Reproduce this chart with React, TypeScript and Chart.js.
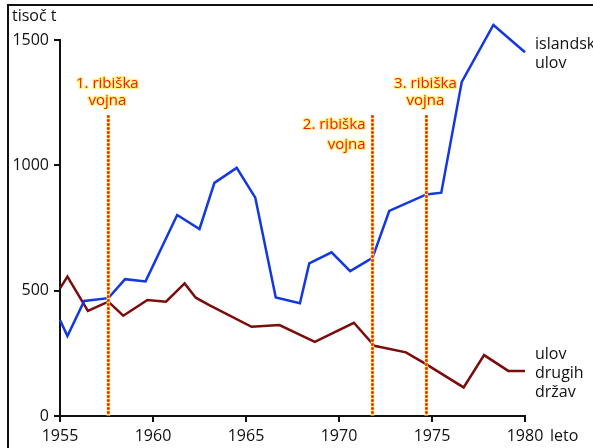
import React, { useEffect, useRef } from "react";
import { Chart, registerables } from "chart.js";

Chart.register(...registerables);

// Islandski ulov (thousand tonnes)
const yearsIceland = [1955.0, 1955.4, 1956.3, 1957.6, 1958.5, 1959.6, 1961.3, 1962.5, 1963.3, 1964.5, 1965.5, 1966.6, 1967.9, 1968.4, 1969.6, 1970.6, 1971.8, 1972.7, 1974.7, 1975.5, 1976.6, 1978.3, 1980.0];
const catchIceland = [383, 319, 459, 470, 546, 537, 802, 746, 930, 990, 871, 473, 450, 609, 653, 578, 631, 818, 884, 891, 1333, 1560, 1451];

// Ulov drugih držav
const yearsOthers = [1955.0, 1955.4, 1956.5, 1957.6, 1958.4, 1959.7, 1960.7, 1961.7, 1962.3, 1963.0, 1965.3, 1966.8, 1968.7, 1970.8, 1971.9, 1973.6, 1974.7, 1976.7, 1977.8, 1979.1, 1980.0];
const catchOthers = [509, 556, 419, 456, 400, 463, 456, 529, 472, 443, 356, 363, 296, 372, 280, 254, 206, 114, 243, 180, 180];

// Ribiške vojne (cod wars)
const warYears = [1957.6, 1971.8, 1974.7];
const warLabels = [["1. ribiška", "vojna"], ["2. ribiška", "vojna"], ["3. ribiška", "vojna"]];
const warTop = 1200;

const xTicks = [1955, 1960, 1965, 1970, 1975, 1980];
const yTicks = [0, 500, 1000, 1500];

const FONT = "'Open Sans', 'Noto Sans', sans-serif";

const annotations = {
  id: "annotations",
  afterDraw(chart: any) {
    const ctx = chart.ctx;
    const xs = chart.scales.x;
    const ys = chart.scales.y;
    ctx.save();
    // frame
    ctx.strokeStyle = "#111";
    ctx.lineWidth = 2;
    ctx.beginPath();
    ctx.moveTo(8, 448);
    ctx.lineTo(8, 5);
    ctx.lineTo(593, 5);
    ctx.stroke();

    // war lines
    warYears.forEach((yr, i) => {
      const px = xs.getPixelForValue(yr);
      const top = ys.getPixelForValue(warTop);
      const bot = ys.getPixelForValue(0);
      ctx.setLineDash([]);
      ctx.strokeStyle = "#fff04a";
      ctx.lineWidth = 3.5;
      ctx.beginPath();
      ctx.moveTo(px, top);
      ctx.lineTo(px, bot);
      ctx.stroke();
      ctx.setLineDash([2.5, 1.5]);
      ctx.strokeStyle = "#e8141e";
      ctx.lineWidth = 2.5;
      ctx.beginPath();
      ctx.moveTo(px, top);
      ctx.lineTo(px, bot);
      ctx.stroke();
      ctx.setLineDash([]);

      ctx.font = `15px ${FONT}`;
      ctx.textBaseline = "alphabetic";
      ctx.lineJoin = "round";
      let lx: number, y1: number, y2: number;
      if (i === 1) {
        ctx.textAlign = "right";
        lx = px - 7;
        y1 = top + 14;
        y2 = top + 34;
      } else {
        ctx.textAlign = "center";
        lx = px - 1;
        y1 = top - 27;
        y2 = top - 10;
      }
      [[warLabels[i][0], y1], [warLabels[i][1], y2]].forEach(([t, y]: any) => {
        ctx.strokeStyle = "rgba(255,240,80,0.8)";
        ctx.lineWidth = 2.5;
        ctx.strokeText(t, lx, y);
        ctx.fillStyle = "#ee1c24";
        ctx.fillText(t, lx, y);
      });
    });

    // series labels and axis titles
    ctx.fillStyle = "#111";
    ctx.textAlign = "left";
    ctx.font = `16px ${FONT}`;
    const rx = chart.chartArea.right + 10;
    ctx.fillText("islandski", rx, 49);
    ctx.fillText("ulov", rx, 68);
    ctx.fillText("ulov", rx, 359);
    ctx.fillText("drugih", rx, 378);
    ctx.fillText("držav", rx, 397);
    ctx.fillText("leto", 550, 441);
    ctx.font = `16px ${FONT}`;
    ctx.fillText("tisoč t", 12, 21);
    ctx.restore();
  },
};

export default function App() {
  const ref = useRef<HTMLCanvasElement>(null);
  useEffect(() => {
    if (!ref.current) return;
    const chart = new Chart(ref.current, {
      type: "line",
      data: {
        datasets: [
          {
            label: "islandski ulov",
            data: yearsIceland.map((x, i) => ({ x, y: catchIceland[i] })),
            borderColor: "#1438e0",
            borderWidth: 2.5,
            pointRadius: 0,
            tension: 0,
            clip: false,
          },
          {
            label: "ulov drugih držav",
            data: yearsOthers.map((x, i) => ({ x, y: catchOthers[i] })),
            borderColor: "#7a0c0c",
            borderWidth: 2.5,
            pointRadius: 0,
            tension: 0,
            clip: false,
          },
        ],
      },
      plugins: [annotations],
      options: {
        responsive: false,
        animation: false,
        layout: { padding: { left: 0, top: 40, right: 68, bottom: 0 } },
        plugins: { legend: { display: false }, tooltip: { enabled: false } },
        scales: {
          x: {
            type: "linear",
            min: 1955,
            max: 1980,
            afterBuildTicks: (s: any) => { s.ticks = xTicks.map((v) => ({ value: v })); },
            afterFit: (s: any) => { s.height = 32; },
            ticks: {
              color: "#111",
              font: { family: FONT, size: 16 },
              padding: 5,
              maxRotation: 0,
              callback: (v: any) => String(v),
            },
            grid: { drawOnChartArea: false, drawTicks: true, tickLength: 6, color: "#111", lineWidth: 2 },
            border: { display: true, color: "#111", width: 2 },
          },
          y: {
            min: 0,
            max: 1500,
            afterBuildTicks: (s: any) => { s.ticks = yTicks.map((v) => ({ value: v })); },
            afterFit: (s: any) => { s.width = 60; },
            ticks: {
              color: "#111",
              font: { family: FONT, size: 16 },
              padding: 5,
              callback: (v: any) => String(v),
            },
            grid: { drawOnChartArea: false, drawTicks: true, tickLength: 6, color: "#111", lineWidth: 2 },
            border: { display: true, color: "#111", width: 2 },
          },
        },
      },
    });
    return () => chart.destroy();
  }, []);
  return (
    <div style={{ position: "fixed", left: 0, top: 0, width: 593, height: 448, background: "#fff" }}>
      <canvas ref={ref} width={593} height={448} style={{ display: "block" }} />
    </div>
  );
}
